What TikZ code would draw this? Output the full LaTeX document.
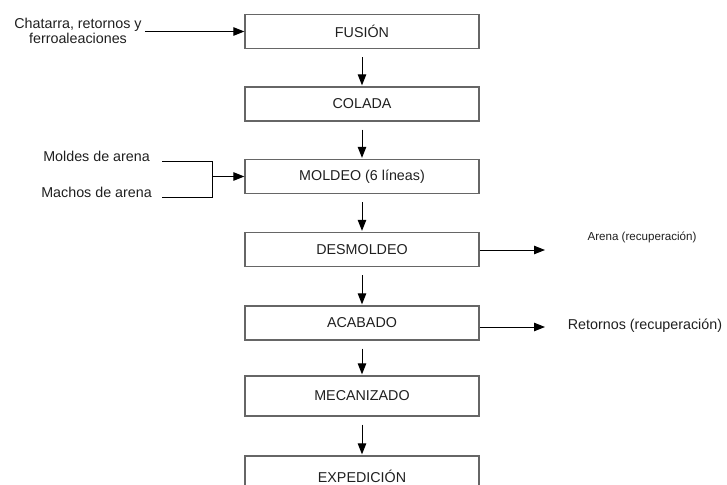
\documentclass[tikz,border=0pt]{standalone}
\usepackage{fontspec}
\setmainfont{Liberation Sans}
\usepackage{xcolor}
\usetikzlibrary{arrows.meta}

\begin{document}
\begin{tikzpicture}[
  x=1pt, y=-1pt,
  every node/.style={text=black!88, font=\fontsize{14.3}{15.5}\selectfont},
  box/.style={draw=black!60, line width=1.3pt, minimum width=234pt, minimum height=34pt, inner sep=0pt},
  lbl/.style={inner sep=0pt, align=center},
  arr/.style={-{Triangle[length=11pt,width=8.5pt]}, line width=1pt},
  link/.style={line width=1pt}
]
\useasboundingbox (0,0) rectangle (727,484);

\node[box] (fusion)     at (362,31.5) {FUSIÓN};
\node[box] (colada)     at (362,104)  {COLADA};
\node[box] (moldeo)     at (362,176.5) {MOLDEO (6 líneas)};
\node[box] (desmoldeo)  at (362,249.5) {DESMOLDEO};
\node[box] (acabado)    at (362,323)  {ACABADO};
\node[box, minimum height=40pt] (mecanizado) at (362,396) {MECANIZADO};
\node[box, minimum height=40pt] (expedicion) at (362,476) {EXPEDICIÓN};

\node[lbl] (chatarra) at (78,31) {Chatarra, retornos y\\ferroaleaciones};
\node[lbl, anchor=base east] (moldes) at (150,161) {Moldes de arena};
\node[lbl, anchor=base east] (machos) at (152,197) {Machos de arena};
\node[lbl, font=\fontsize{11.6}{13}\selectfont] (arena) at (642,237) {Arena (recuperación)};
\node[lbl] (retornos) at (645,326) {Retornos (recuperación)};

\coordinate (junc) at (212,176.5);
\coordinate (arenaend) at (545,250);
\coordinate (retend) at (545,327);

\draw[arr] ([xshift=3pt]chatarra.east |- fusion) -- (fusion.west);
\foreach \a/\b in {fusion/colada, colada/moldeo, moldeo/desmoldeo,
                   desmoldeo/acabado, acabado/mecanizado, mecanizado/expedicion}
  \draw[arr, shorten <=8pt, shorten >=1pt] (\a.south) -- (\b.north);

\draw[link] ([xshift=12pt]moldes.base east) -- (moldes.base -| junc)
  -- (machos.base -| junc) -- ([xshift=10pt]machos.base east);
\draw[arr] (junc) -- (moldeo.west);

\draw[arr] (desmoldeo.east |- arenaend) -- (arenaend);
\draw[arr] (acabado.east |- retend) -- (retend);
\end{tikzpicture}
\end{document}
